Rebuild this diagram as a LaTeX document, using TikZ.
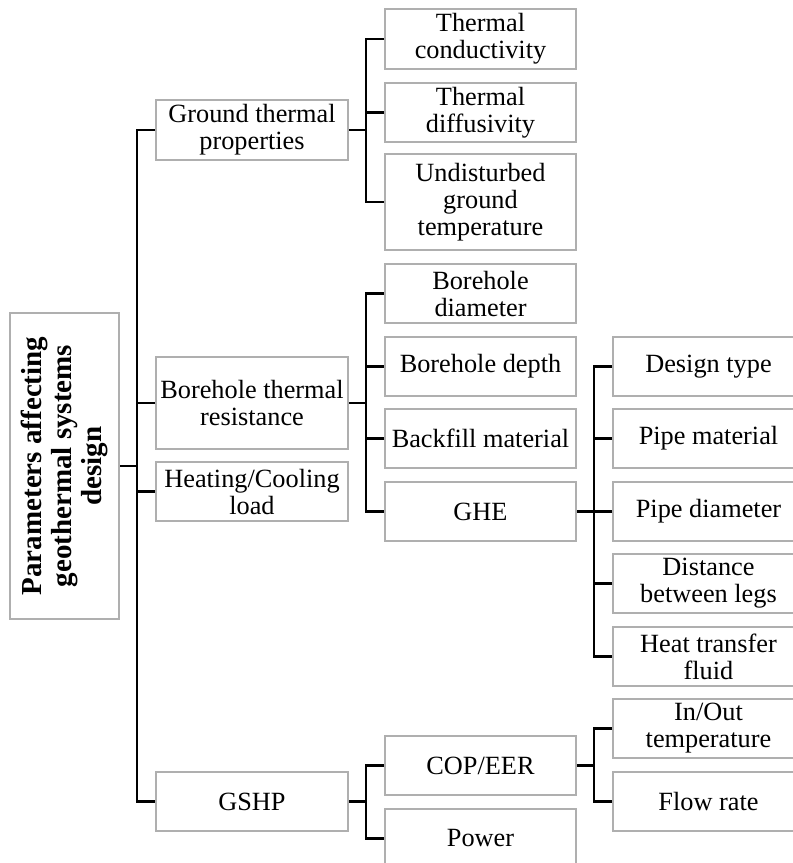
\documentclass[tikz,border=0pt]{standalone}
\usepackage{fontspec}
\setmainfont{Liberation Serif}
\definecolor{boxgray}{RGB}{175,175,175}
\tikzset{
  box/.style={draw=boxgray, line width=2pt, fill=white, inner sep=0pt, align=center,
    font=\fontsize{26.3}{27}\selectfont},
  lone/.style={box, minimum width=192, minimum height=60},
  ltwo/.style={box, minimum width=191, minimum height=59},
  lthree/.style={box, minimum width=191, minimum height=59},
  link/.style={line width=2.5pt, black},
}
\begin{document}
\begin{tikzpicture}[x=1pt, y=-1pt]
\useasboundingbox (0,0) rectangle (793,863);
\clip (0,0) rectangle (793,863);
% trunk coordinates
\coordinate (t1) at (137,0);
\coordinate (t2) at (366,0);
\coordinate (t3) at (594,0);
% root
\node[box, minimum width=109, minimum height=306] (root) at (64.5,466)
  {\rotatebox{90}{\parbox{300pt}{\centering\fontsize{29}{30}\selectfont\bfseries Parameters affecting\\ geothermal systems\\ design}}};
% level 1
\node[lone] (gtp) at (252,130) {Ground thermal\\properties};
\node[lone, minimum height=92] (btr) at (252,403) {Borehole thermal\\resistance};
\node[lone, minimum height=59] (hcl) at (252,491.5) {Heating/Cooling\\load};
\node[lone, minimum height=59] (gshp) at (252,801.5) {GSHP};
% level 2
\node[ltwo, minimum height=60] (tc) at (480.5,39) {Thermal\\conductivity};
\node[ltwo] (td) at (480.5,112.5) {Thermal\\diffusivity};
\node[ltwo, minimum height=96] (ugt) at (480.5,202) {Undisturbed\\ground\\temperature};
\node[ltwo] (bd) at (480.5,293.5) {Borehole\\diameter};
\node[ltwo] (bdep) at (480.5,366.5) {Borehole depth};
\node[ltwo] (bm) at (480.5,438.5) {Backfill material};
\node[ltwo] (ghe) at (480.5,511.5) {GHE};
\node[ltwo] (cop) at (480.5,765.5) {COP/EER};
\node[ltwo] (pow) at (480.5,838.5) {Power};
% level 3
\node[lthree] (dt) at (708.5,366.5) {Design type};
\node[lthree] (pm) at (708.5,438.5) {Pipe material};
\node[lthree] (pd) at (708.5,511.5) {Pipe diameter};
\node[lthree] (dbl) at (708.5,583.5) {Distance\\between legs};
\node[lthree] (htf) at (708.5,656.5) {Heat transfer\\fluid};
\node[lthree] (iot) at (708.5,728.5) {In/Out\\temperature};
\node[lthree] (fr) at (708.5,801.5) {Flow rate};
% connectors: root to level 1
\draw[link] (root.east) -- (root.east -| t1);
\draw[link] (gtp.west) -- (gtp.west -| t1) -- (gshp.west -| t1) -- (gshp.west);
\draw[link] (btr.west) -- (btr.west -| t1);
\draw[link] (hcl.west) -- (hcl.west -| t1);
% ground thermal properties
\draw[link] (gtp.east) -- (gtp.east -| t2);
\draw[link] (tc.west) -- (tc.west -| t2) -- (ugt.west -| t2) -- (ugt.west);
\draw[link] (td.west) -- (td.west -| t2);
% borehole thermal resistance
\draw[link] (btr.east) -- (btr.east -| t2);
\draw[link] (bd.west) -- (bd.west -| t2) -- (ghe.west -| t2) -- (ghe.west);
\draw[link] (bdep.west) -- (bdep.west -| t2);
\draw[link] (bm.west) -- (bm.west -| t2);
% GHE
\draw[link] (ghe.east) -- (ghe.east -| t3);
\draw[link] (dt.west) -- (dt.west -| t3) -- (htf.west -| t3) -- (htf.west);
\draw[link] (pm.west) -- (pm.west -| t3);
\draw[link] (pd.west) -- (pd.west -| t3);
\draw[link] (dbl.west) -- (dbl.west -| t3);
% GSHP
\draw[link] (gshp.east) -- (gshp.east -| t2);
\draw[link] (cop.west) -- (cop.west -| t2) -- (pow.west -| t2) -- (pow.west);
% COP/EER
\draw[link] (cop.east) -- (cop.east -| t3);
\draw[link] (iot.west) -- (iot.west -| t3) -- (fr.west -| t3) -- (fr.west);
\end{tikzpicture}
\end{document}
